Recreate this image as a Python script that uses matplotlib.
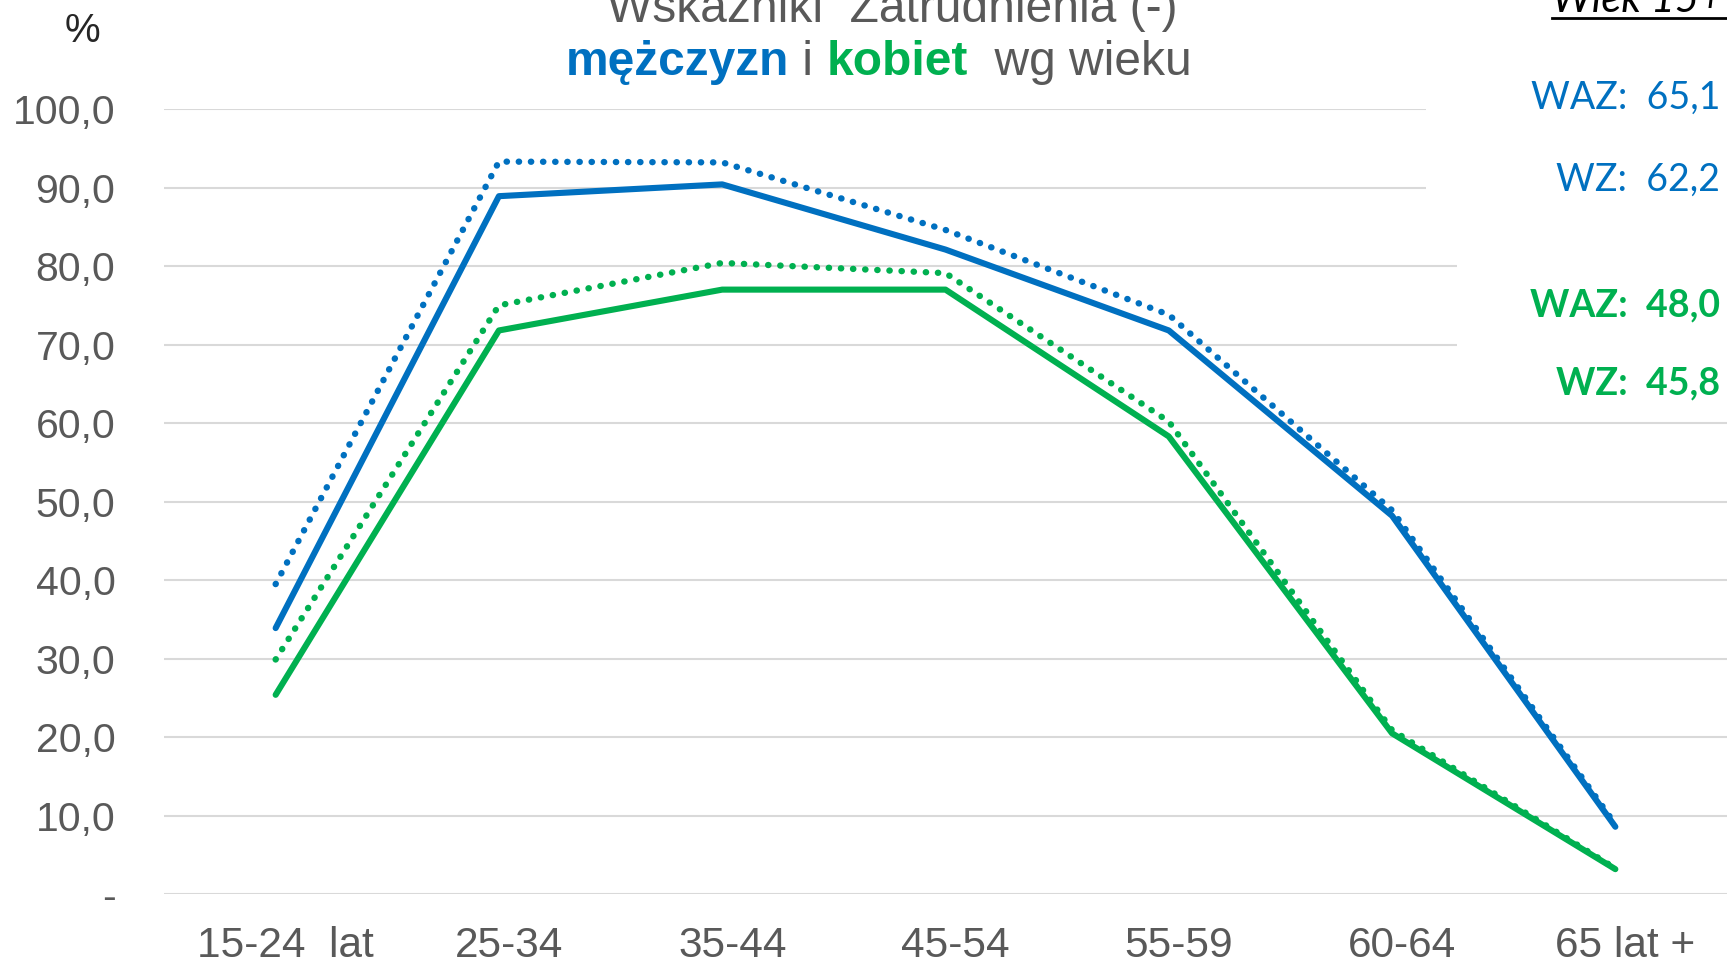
import matplotlib
matplotlib.use("Agg")
import matplotlib.pyplot as plt
import matplotlib.transforms as mtransforms
from matplotlib.patches import Rectangle
from matplotlib.lines import Line2D

plt.rcParams['font.family'] = ['Liberation Sans', 'DejaVu Sans']

# grupy wieku
wiek = ["15-24  lat", "25-34", "35-44", "45-54", "55-59", "60-64", "65 lat +"]

# WAZ - wskaznik aktywnosci zawodowej (kropki), WZ - wskaznik zatrudnienia (linia ciagla)
waz_m = [39.5, 93.3, 93.2, 84.6, 73.8, 48.9, 8.9]
wz_m = [33.9, 88.9, 90.4, 82.1, 71.8, 48.2, 8.6]
waz_k = [29.9, 75.0, 80.4, 79.1, 60.2, 20.9, 3.3]
wz_k = [25.4, 71.8, 77.0, 77.0, 58.3, 20.5, 3.2]

# wartosci ogolem (wiek 15+)
razem_m = [("WAZ:", "65,1"), ("WZ:", "62,2")]
razem_k = [("WAZ:", "48,0"), ("WZ:", "45,8")]

yticks = [0, 10, 20, 30, 40, 50, 60, 70, 80, 90, 100]
ytick_labels = ["-"] + ["%d,0" % v for v in yticks[1:]]

BLUE = "#0070C0"
GREEN = "#00B050"
GRAY = "#595959"

W, H = 1727, 964
fig = plt.figure(figsize=(W / 100, H / 100), dpi=100)
ax = fig.add_axes([164 / W, (H - 894.3) / H, (W - 164) / W, (894.3 - 109) / H])

x = list(range(len(wiek)))
dot = dict(linestyle=(0, (0.05, 1.85)), dash_capstyle="round", lw=4.6)
ax.plot(x, waz_m, color=BLUE, zorder=3, **dot)
ax.plot(x, waz_k, color=GREEN, zorder=3, **dot)
ax.plot(x, wz_m, color=BLUE, lw=4.4, solid_capstyle="round", zorder=4)
ax.plot(x, wz_k, color=GREEN, lw=4.4, solid_capstyle="round", zorder=4)

ax.set_xlim(-0.5, len(wiek) - 0.5)
ax.set_ylim(0, 100)
ax.set_yticks(yticks)
ax.set_yticklabels(ytick_labels)
ax.set_xticks(x)
ax.set_xticklabels(wiek)
ax.tick_params(axis="y", length=0, pad=35, labelsize=29.5, labelcolor=GRAY)
ax.tick_params(axis="x", length=0, pad=23, labelsize=30.5, labelcolor=GRAY)
shift = mtransforms.ScaledTranslation(10 / 100, 0, fig.dpi_scale_trans)
for lab in ax.get_xticklabels():
    lab.set_transform(lab.get_transform() + shift)
ax.grid(axis="y", color="#D9D9D9", lw=1.5, zorder=1)
ax.set_axisbelow(True)
for s in ax.spines.values():
    s.set_visible(False)

# biale pola pod opisami po prawej
fig.patches.append(Rectangle((1426 / W, (H - 228) / H), (W - 1426) / W, 228 / H,
                             transform=fig.transFigure, facecolor="white", edgecolor="none", zorder=5))
fig.patches.append(Rectangle((1457 / W, (H - 400) / H), (W - 1457) / W, 172 / H,
                             transform=fig.transFigure, facecolor="white", edgecolor="none", zorder=5))

# jednostka
fig.text(82.6 / W, (H - 30.5) / H, "%", fontsize=29, color="#262626", ha="center", va="center")

# tytul
fig.text(892 / W, (H - 22) / H, "Wskaźniki  Zatrudnienia (-)", fontsize=34.5, color=GRAY,
         ha="center", va="baseline")
yb = (H - 75) / H
parts = [("mężczyzn", BLUE, "bold"), (" i ", GRAY, "normal"), ("kobiet", GREEN, "bold"),
         ("  wg wieku", GRAY, "normal")]
prev = fig.text(566 / W, yb, parts[0][0], color=parts[0][1], fontweight=parts[0][2],
                fontsize=34.5, va="baseline", ha="left")
for txt, col, fw in parts[1:]:
    prev = ax.annotate(txt, xy=(1, yb), xycoords=(prev, "figure fraction"), color=col,
                       fontweight=fw, fontsize=34.5, va="baseline", ha="left",
                       annotation_clip=False)

# opisy po prawej
fig.text(1552 / W, (H - 12) / H, "Wiek 15+", fontsize=30, style="italic", color="black",
         ha="left", va="baseline", family="Lato", zorder=6)
fig.add_artist(Line2D([1552 / W, 1.0], [(H - 18) / H] * 2, color="black", lw=2,
                      transform=fig.transFigure, zorder=6))

for (lab, val), yc in zip(razem_m, [98, 180]):
    fig.text(1720 / W, (H - yc) / H, lab + "  " + val, fontsize=27, color=BLUE,
             ha="right", va="center", family="Lato", zorder=6)
for (lab, val), yc in zip(razem_k, [305, 383]):
    fig.text(1720 / W, (H - yc) / H, lab + "  " + val, fontsize=27, color=GREEN, fontweight="bold",
             ha="right", va="center", family="Lato", zorder=6)

fig.savefig("out.png", dpi=100)
